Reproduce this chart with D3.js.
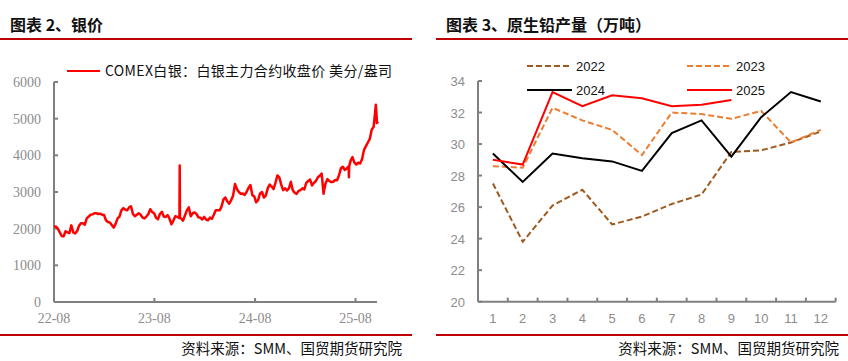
<!DOCTYPE html>
<html>
<head>
<meta charset="utf-8">
<script src="https://cdn.jsdelivr.net/npm/d3@7"></script>
<style>
  body { margin: 0; background: #fff; }
  svg { display: block; }
</style>
</head>
<body>
<svg id="chart" width="848" height="361"></svg>
<script>
// ---- data ----
var silverTitle = "图表 2、银价";
var leadTitle = "图表 3、原生铅产量（万吨）";
var sourceText = "资料来源：SMM、国贸期货研究院";
var silverLegend = "COMEX白银：白银主力合约收盘价 美分/盎司";

var silverTicksY = [0, 1000, 2000, 3000, 4000, 5000, 6000];
var silverTicksX = ["2022-08-01", "2023-08-01", "2024-08-01", "2025-08-01"];

// [date, 美分/盎司]
var silver = [
  ["2022-08-01", 2040], ["2022-08-08", 2060], ["2022-08-15", 2000], ["2022-08-22", 1900],
  ["2022-08-29", 1800], ["2022-09-05", 1790], ["2022-09-12", 1930], ["2022-09-19", 1900],
  ["2022-09-26", 1880], ["2022-10-03", 2090], ["2022-10-10", 1900], ["2022-10-17", 1870],
  ["2022-10-24", 1930], ["2022-10-31", 2080], ["2022-11-07", 2150], ["2022-11-14", 2150],
  ["2022-11-21", 2110], ["2022-11-28", 2280], ["2022-12-05", 2330], ["2022-12-12", 2380],
  ["2022-12-19", 2390], ["2022-12-26", 2420], ["2023-01-02", 2420], ["2023-01-09", 2400],
  ["2023-01-16", 2410], ["2023-01-23", 2380], ["2023-01-30", 2370], ["2023-02-06", 2230],
  ["2023-02-13", 2180], ["2023-02-20", 2170], ["2023-02-27", 2100], ["2023-03-06", 2030],
  ["2023-03-13", 2130], ["2023-03-20", 2280], ["2023-03-27", 2330], ["2023-04-03", 2500],
  ["2023-04-10", 2560], ["2023-04-17", 2520], ["2023-04-24", 2500], ["2023-05-01", 2580],
  ["2023-05-08", 2610], ["2023-05-15", 2400], ["2023-05-22", 2340], ["2023-05-29", 2380],
  ["2023-06-05", 2420], ["2023-06-12", 2380], ["2023-06-19", 2300], ["2023-06-26", 2280],
  ["2023-07-03", 2330], ["2023-07-10", 2400], ["2023-07-17", 2530], ["2023-07-24", 2450],
  ["2023-07-31", 2420], ["2023-08-07", 2300], ["2023-08-14", 2260], ["2023-08-21", 2400],
  ["2023-08-28", 2460], ["2023-09-04", 2330], ["2023-09-11", 2320], ["2023-09-18", 2370],
  ["2023-09-25", 2270], ["2023-10-02", 2120], ["2023-10-09", 2220], ["2023-10-16", 2340],
  ["2023-10-23", 2320], ["2023-10-31", 2290], ["2023-11-01", 3720], ["2023-11-02", 2290],
  ["2023-11-06", 2280], ["2023-11-13", 2220], ["2023-11-20", 2360], ["2023-11-27", 2500],
  ["2023-12-04", 2580], ["2023-12-11", 2340], ["2023-12-18", 2420], ["2023-12-25", 2440],
  ["2024-01-01", 2400], ["2024-01-08", 2310], ["2024-01-15", 2300], ["2024-01-22", 2250],
  ["2024-01-29", 2320], ["2024-02-05", 2250], ["2024-02-12", 2230], ["2024-02-19", 2300],
  ["2024-02-26", 2270], ["2024-03-04", 2380], ["2024-03-11", 2500], ["2024-03-18", 2500],
  ["2024-03-25", 2500], ["2024-04-01", 2600], ["2024-04-08", 2800], ["2024-04-15", 2850],
  ["2024-04-22", 2740], ["2024-04-29", 2680], ["2024-05-06", 2780], ["2024-05-13", 2900],
  ["2024-05-20", 3220], ["2024-05-27", 3080], ["2024-06-03", 3000], ["2024-06-10", 2950],
  ["2024-06-17", 2960], ["2024-06-24", 2920], ["2024-07-01", 3000], ["2024-07-08", 3110],
  ["2024-07-15", 3190], ["2024-07-22", 2920], ["2024-07-29", 2880], ["2024-08-05", 2720],
  ["2024-08-12", 2780], ["2024-08-19", 2960], ["2024-08-26", 3000], ["2024-09-02", 2850],
  ["2024-09-09", 2900], ["2024-09-16", 3100], ["2024-09-23", 3200], ["2024-09-30", 3150],
  ["2024-10-07", 3080], ["2024-10-14", 3250], ["2024-10-21", 3450], ["2024-10-28", 3400],
  ["2024-11-04", 3200], ["2024-11-11", 3050], ["2024-11-18", 3100], ["2024-11-25", 3040],
  ["2024-12-02", 3100], ["2024-12-09", 3280], ["2024-12-16", 3050], ["2024-12-23", 2980],
  ["2024-12-30", 2950], ["2025-01-06", 3030], ["2025-01-13", 3050], ["2025-01-20", 3100],
  ["2025-01-27", 3070], ["2025-02-03", 3250], ["2025-02-10", 3300], ["2025-02-17", 3340],
  ["2025-02-24", 3180], ["2025-03-03", 3250], ["2025-03-10", 3300], ["2025-03-17", 3400],
  ["2025-03-24", 3440], ["2025-03-31", 3500], ["2025-04-07", 2950], ["2025-04-09", 3050],
  ["2025-04-14", 3230], ["2025-04-21", 3350], ["2025-04-28", 3300], ["2025-05-05", 3270],
  ["2025-05-12", 3280], ["2025-05-19", 3330], ["2025-05-26", 3320], ["2025-06-02", 3450],
  ["2025-06-09", 3650], ["2025-06-16", 3690], ["2025-06-23", 3600], ["2025-06-30", 3640],
  ["2025-07-07", 3700], ["2025-07-08", 3400], ["2025-07-09", 3700], ["2025-07-14", 3850],
  ["2025-07-21", 3950], ["2025-07-28", 3800], ["2025-08-04", 3750], ["2025-08-11", 3800],
  ["2025-08-18", 3780], ["2025-08-25", 3900], ["2025-09-01", 4150], ["2025-09-08", 4250],
  ["2025-09-15", 4350], ["2025-09-22", 4450], ["2025-09-29", 4700], ["2025-10-06", 4780],
  ["2025-10-09", 5000], ["2025-10-14", 5380], ["2025-10-16", 5150], ["2025-10-18", 4880],
  ["2025-10-22", 4920]
];

var months = ["1", "2", "3", "4", "5", "6", "7", "8", "9", "10", "11", "12"];
var leadTicksY = [20, 22, 24, 26, 28, 30, 32, 34];
var years = ["2022", "2023", "2024", "2025"];
var lead2022 = [27.5, 23.8, 26.1, 27.1, 24.9, 25.4, 26.2, 26.8, 29.5, 29.6, 30.1, 30.8];
var lead2023 = [28.6, 28.5, 32.3, 31.5, 30.9, 29.3, 32.0, 31.9, 31.6, 32.1, 30.1, 30.9];
var lead2024 = [29.4, 27.6, 29.4, 29.1, 28.9, 28.3, 30.7, 31.5, 29.2, 31.7, 33.3, 32.7];
var lead2025 = [29.0, 28.7, 33.3, 32.4, 33.1, 32.9, 32.4, 32.5, 32.8];

// ---- drawing ----
var svg = d3.select('#chart');
var AXIS = '#808080';
var LABEL = '#8c8c8c';
var RED = '#c00000';
var parse = d3.timeParse('%Y-%m-%d');

function header(x0, x1, title, srcRight) {
  svg.append('text')
    .attr('x', x0 + 10).attr('y', 31)
    .style('font-family', "'Noto Sans CJK SC'")
    .style('font-weight', 'bold')
    .style('font-size', '16px')
    .style('fill', '#111')
    .text(title);
  svg.append('line')
    .attr('x1', x0).attr('x2', x1).attr('y1', 39).attr('y2', 39)
    .style('stroke', RED).style('stroke-width', 2);
  svg.append('line')
    .attr('x1', x0).attr('x2', x1).attr('y1', 335).attr('y2', 335)
    .style('stroke', RED).style('stroke-width', 2);
  svg.append('text')
    .attr('x', srcRight).attr('y', 354)
    .attr('text-anchor', 'end')
    .style('font-family', "'Noto Sans CJK SC'")
    .style('font-size', '14.5px')
    .style('fill', '#111')
    .text(sourceText);
}

header(0, 412, silverTitle, 402);
header(436, 848, leadTitle, 839);

// left chart: silver
var x1 = d3.scaleTime()
  .domain([parse('2022-08-01'), parse('2025-08-01')])
  .range([54, 355.5]);
var y1 = d3.scaleLinear().domain([0, 6000]).range([302, 82]);

var g1 = svg.append('g');
g1.append('line')
  .attr('x1', 54).attr('x2', 54).attr('y1', y1(0)).attr('y2', y1(6000))
  .style('stroke', AXIS).style('stroke-width', 2);
g1.append('line')
  .attr('x1', 54).attr('x2', 377).attr('y1', y1(0)).attr('y2', y1(0))
  .style('stroke', AXIS).style('stroke-width', 2);

silverTicksY.forEach(function (v) {
  g1.append('line')
    .attr('x1', 54).attr('x2', 58).attr('y1', y1(v)).attr('y2', y1(v))
    .style('stroke', AXIS).style('stroke-width', 2);
  g1.append('text')
    .attr('x', 41).attr('y', y1(v) + 5)
    .attr('text-anchor', 'end')
    .style('font-family', "'Liberation Serif'")
    .style('font-size', '14px')
    .style('fill', LABEL)
    .text(v);
});

var fmt = d3.timeFormat('%y-%m');
silverTicksX.forEach(function (d) {
  var xx = x1(parse(d));
  g1.append('line')
    .attr('x1', xx).attr('x2', xx).attr('y1', y1(0)).attr('y2', y1(0) - 4)
    .style('stroke', AXIS).style('stroke-width', 2);
  g1.append('text')
    .attr('x', xx).attr('y', 323)
    .attr('text-anchor', 'middle')
    .style('font-family', "'Liberation Serif'")
    .style('font-size', '14px')
    .style('fill', LABEL)
    .text(fmt(parse(d)));
});

var silverLine = d3.line()
  .x(function (d) { return x1(parse(d[0])); })
  .y(function (d) { return y1(d[1]); });

g1.append('path')
  .datum(silver)
  .attr('d', silverLine)
  .style('fill', 'none')
  .style('stroke', '#ff0000')
  .style('stroke-width', 2.5)
  .style('stroke-linejoin', 'round');

g1.append('line')
  .attr('x1', 67).attr('x2', 100).attr('y1', 71).attr('y2', 71)
  .style('stroke', '#ff0000').style('stroke-width', 2);
g1.append('text')
  .attr('x', 105).attr('y', 75.5)
  .attr('textLength', 287)
  .attr('lengthAdjust', 'spacing')
  .style('font-family', "'Noto Sans CJK SC'")
  .style('font-size', '14px')
  .style('fill', '#111')
  .text(silverLegend);

// right chart: primary lead output
var x2 = d3.scaleBand().domain(months).range([478, 835.7]);
var y2 = d3.scaleLinear().domain([20, 34]).range([301.7, 81]);

var g2 = svg.append('g');
g2.append('line')
  .attr('x1', 478).attr('x2', 478).attr('y1', y2(20)).attr('y2', y2(34))
  .style('stroke', AXIS).style('stroke-width', 2);
g2.append('line')
  .attr('x1', 478).attr('x2', 835.7).attr('y1', y2(20)).attr('y2', y2(20))
  .style('stroke', AXIS).style('stroke-width', 2);

leadTicksY.forEach(function (v) {
  g2.append('line')
    .attr('x1', 478).attr('x2', 482).attr('y1', y2(v)).attr('y2', y2(v))
    .style('stroke', AXIS).style('stroke-width', 2);
  g2.append('text')
    .attr('x', 465).attr('y', y2(v) + 5)
    .attr('text-anchor', 'end')
    .style('font-family', "'Liberation Sans'")
    .style('font-size', '13px')
    .style('fill', LABEL)
    .text(v);
});

months.forEach(function (m, i) {
  var xe = x2(m) + x2.bandwidth();
  g2.append('line')
    .attr('x1', xe).attr('x2', xe).attr('y1', y2(20)).attr('y2', y2(20) - 4)
    .style('stroke', AXIS).style('stroke-width', 2);
  g2.append('text')
    .attr('x', x2(m) + x2.bandwidth() / 2).attr('y', 323)
    .attr('text-anchor', 'middle')
    .style('font-family', "'Liberation Sans'")
    .style('font-size', '13px')
    .style('fill', LABEL)
    .text(m);
});

var seriesStyle = [
  { data: lead2022, color: '#9e5a1e', dash: '6,3' },
  { data: lead2023, color: '#ed7d31', dash: '6,3' },
  { data: lead2024, color: '#000000', dash: null },
  { data: lead2025, color: '#ff0000', dash: null }
];

var leadLine = d3.line()
  .x(function (d, i) { return x2(months[i]) + x2.bandwidth() / 2; })
  .y(function (d) { return y2(d); });

seriesStyle.forEach(function (s, k) {
  g2.append('path')
    .datum(s.data)
    .attr('d', leadLine)
    .style('fill', 'none')
    .style('stroke', s.color)
    .style('stroke-width', 2)
    .style('stroke-dasharray', s.dash);

  var lx = k % 2 === 0 ? 527 : 687;
  var ly = k < 2 ? 66 : 90;
  g2.append('line')
    .attr('x1', lx).attr('x2', lx + 45).attr('y1', ly).attr('y2', ly)
    .style('stroke', s.color)
    .style('stroke-width', 2)
    .style('stroke-dasharray', s.dash);
  g2.append('text')
    .attr('x', lx + 49).attr('y', ly + 5)
    .style('font-family', "'Liberation Sans'")
    .style('font-size', '13px')
    .style('fill', '#111')
    .text(years[k]);
});
</script>
</body>
</html>
